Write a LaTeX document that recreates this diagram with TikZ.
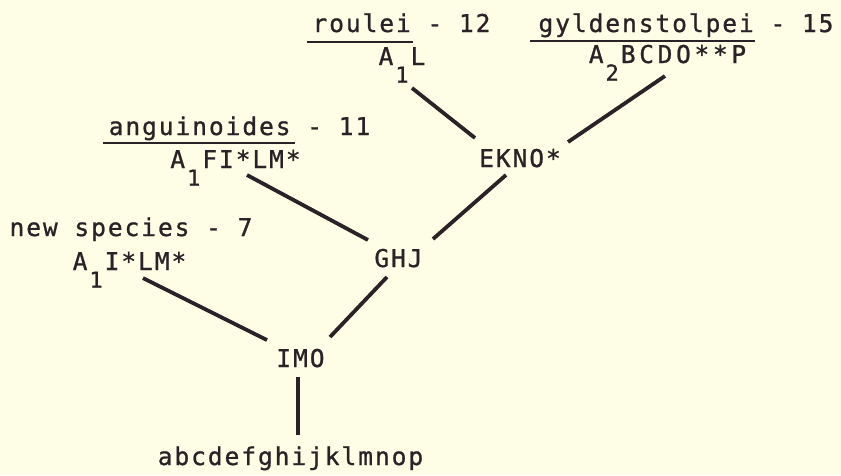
\documentclass[tikz,border=0pt]{standalone}
\usepackage{fontspec}
\setmainfont{DejaVu Sans Mono}[LetterSpace=8,FakeBold=1]
\usetikzlibrary{calc}
\definecolor{paper}{RGB}{254,254,230}
\definecolor{ink}{RGB}{42,34,38}
\newcommand\sbs[1]{\hspace{2pt}\raisebox{-0.72em}{\fontsize{22}{22}\selectfont #1}\hspace{2pt}}
\tikzset{
  lbl/.style={anchor=base, inner sep=0pt, text=ink, font=\fontsize{24.5}{26}\selectfont},
  edge/.style={draw=ink, line width=3.8pt},
  uline/.style={draw=ink, line width=2.6pt}
}
\begin{document}
\begin{tikzpicture}[x=1pt,y=-1pt]
\fill[paper] (0,0) rectangle (841,475);
\useasboundingbox (0,0) rectangle (841,475);
% taxa
\node[lbl] (n1) at (401.5,32) {roulei - 12};
\node[lbl] (c1) at (402,65) {A\sbs{1}L};
\node[lbl] (n2) at (686,32) {gyldenstolpei - 15};
\node[lbl] (c2) at (667.5,63) {\addfontfeature{LetterSpace=15}A\sbs{2}BCDO**P};
\node[lbl] (n3) at (239.5,135) {anguinoides - 11};
\node[lbl] (c3) at (235.5,168) {A\sbs{1}FI*LM*};
\node[lbl] (n4) at (131,236) {new species - 7};
\node[lbl] (c4) at (129.5,270) {A\sbs{1}I*LM*};
% internal nodes
\node[lbl] (ekno) at (520,167) {EKNO*};
\node[lbl] (ghj) at (398.5,267) {GHJ};
\node[lbl] (imo) at (300.5,367) {IMO};
\node[lbl] (root) at (290.5,465) {abcdefghijklmnop};
% underlines
\draw[uline] (307,42) -- (413,42);
\draw[uline] (530,41) -- (755,41);
\draw[uline] (103,143) -- (295,143);
% connectors
\draw[edge] ([shift={(10,23)}]c1.base) -- ([shift={(-45,-29)}]ekno.base);
\draw[edge] ([shift={(-2.5,13)}]c2.base) -- ([shift={(48,-25)}]ekno.base);
\draw[edge] ([shift={(-14,8)}]ekno.base) -- ([shift={(34.5,-28)}]ghj.base);
\draw[edge] ([shift={(11.5,7)}]c3.base) -- ([shift={(-30.5,-27)}]ghj.base);
\draw[edge] ([shift={(13.5,8)}]c4.base) -- ([shift={(-33.5,-27)}]imo.base);
\draw[edge] ([shift={(-11.5,10)}]ghj.base) -- ([shift={(29.5,-30)}]imo.base);
\draw[edge] ([shift={(-2.5,10)}]imo.base) -- ([shift={(7.5,-30)}]root.base);
\end{tikzpicture}
\end{document}
